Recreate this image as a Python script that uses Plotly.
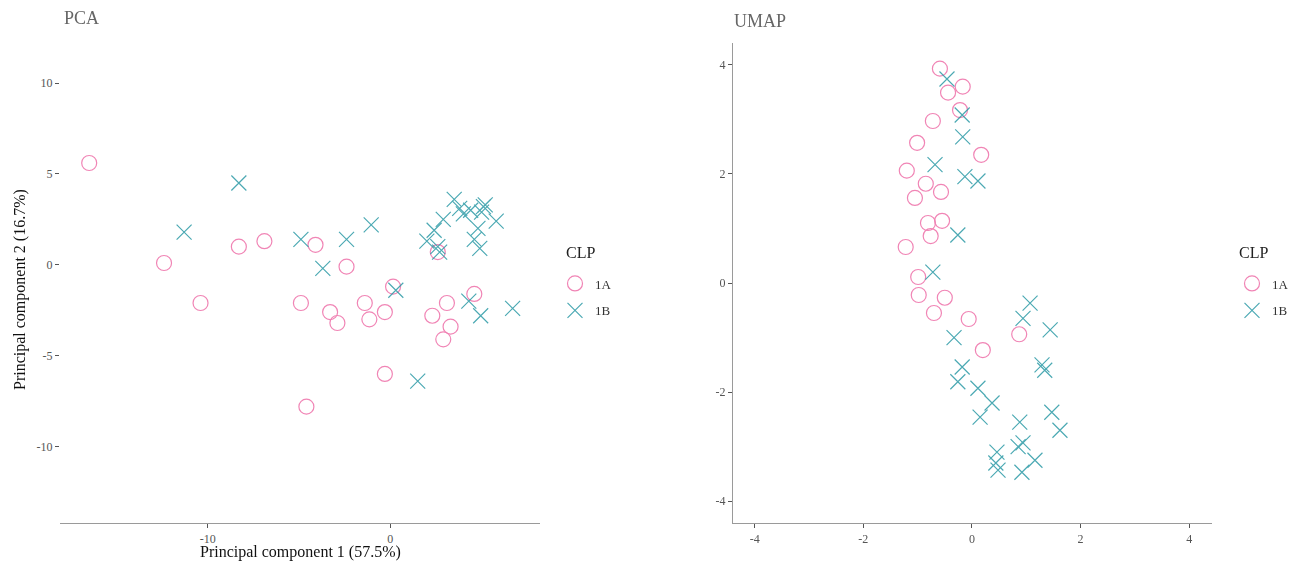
import plotly.graph_objects as go

# ---------------- data ----------------
# PCA, group 1A
pca_1a_x = [-16.5, -12.4, -10.4, -8.3, -6.9, -4.9, -4.1, -4.6, -3.3, -2.9, -2.4,
            -1.4, -1.15, -0.3, -0.3, 0.15, 2.3, 2.6, 3.1, 2.9, 3.3, 4.6]
pca_1a_y = [5.6, 0.1, -2.1, 1.0, 1.3, -2.1, 1.1, -7.8, -2.6, -3.2, -0.1,
            -2.1, -3.0, -2.6, -6.0, -1.2, -2.8, 0.7, -2.1, -4.1, -3.4, -1.6]
# PCA, group 1B
pca_1b_x = [-11.3, -8.3, -4.9, -3.7, -2.4, -1.05, 0.3, 1.5, 2.0, 2.4, 2.6, 2.7,
            2.9, 3.5, 3.8, 4.0, 4.4, 4.6, 4.8, 5.0, 5.1, 5.2, 4.9, 4.3, 4.95, 5.8, 6.7]
pca_1b_y = [1.8, 4.5, 1.4, -0.2, 1.4, 2.2, -1.4, -6.4, 1.3, 1.9, 1.0, 0.7,
            2.5, 3.6, 3.1, 2.8, 3.0, 1.4, 2.0, 2.9, 3.2, 3.3, 0.9, -2.0, -2.8, 2.4, -2.4]

# UMAP, group 1A
umap_1a_x = [-0.59, -0.17, -0.44, -0.22, -0.72, -1.01, 0.17, -1.2, -0.85, -0.57, -1.05,
             -0.55, -0.81, -0.76, -1.22, -0.99, -0.98, -0.5, -0.7, -0.06, 0.87, 0.2]
umap_1a_y = [3.93, 3.6, 3.49, 3.17, 2.97, 2.57, 2.35, 2.06, 1.82, 1.67, 1.56,
             1.14, 1.1, 0.86, 0.66, 0.11, -0.22, -0.27, -0.55, -0.66, -0.94, -1.23]
# UMAP, group 1B
umap_1b_x = [-0.46, -0.18, -0.17, -0.68, -0.13, 0.11, -0.26, -0.72,
             -0.33, -0.18, -0.26, 0.11, 0.37, 0.15, 0.88, 0.46, 0.44, 0.48, 0.85, 0.94, 0.92,
             1.07, 0.94, 1.44, 1.29, 1.34, 1.47, 1.62, 1.16]
umap_1b_y = [3.74, 3.08, 2.68, 2.17, 1.95, 1.87, 0.88, 0.2,
             -1.0, -1.54, -1.81, -1.93, -2.2, -2.46, -2.55, -3.1, -3.3, -3.43, -3.0, -2.93, -3.47,
             -0.37, -0.65, -0.86, -1.5, -1.6, -2.37, -2.7, -3.25]

group_names = ["1A", "1B"]
pca_ticks_x = [-10, 0]
pca_ticks_y = [-10, -5, 0, 5, 10]
umap_ticks = [-4, -2, 0, 2, 4]

# ---------------- style ----------------
PINK = "#EE6FA8"
TEAL = "#2C9AA6"
FONT = "Liberation Serif"
GREY_TXT = "#555555"
AXIS_GREY = "#9a9a9a"

fig = go.Figure()

def add(x, y, name, color, symbol, xa, ya, legend):
    fig.add_trace(go.Scatter(
        x=x, y=y, mode="markers", name=name, legendgroup=name,
        marker=dict(symbol=symbol, size=15, color=color,
                    line=dict(width=1.2, color=color)),
        opacity=0.85,
        xaxis=xa, yaxis=ya, legend=legend,
    ))

add(pca_1a_x, pca_1a_y, group_names[0], PINK, "circle-open", "x", "y", "legend")
add(pca_1b_x, pca_1b_y, group_names[1], TEAL, "x-thin-open", "x", "y", "legend")
add(umap_1a_x, umap_1a_y, group_names[0], PINK, "circle-open", "x2", "y2", "legend2")
add(umap_1b_x, umap_1b_y, group_names[1], TEAL, "x-thin-open", "x2", "y2", "legend2")

W, H = 1292, 562
def px(v):
    return v / W
def py(v):
    return 1 - v / H

def labels(vals):
    return [str(v) for v in vals]  # ASCII hyphen minus, as in the reference

tickfont = dict(family=FONT, size=12, color=GREY_TXT)
common = dict(showgrid=False, zeroline=False, ticks="outside", ticklen=4,
              tickcolor="#555555", tickwidth=1.2, tickfont=tickfont, automargin=False)

legend_common = dict(
    font=dict(family=FONT, size=13, color="#333333"),
    bgcolor="rgba(0,0,0,0)", xanchor="left", yanchor="middle",
    itemwidth=30, tracegroupgap=7, traceorder="grouped",
)

title_font = dict(family=FONT, size=16, color="#222222")

fig.update_layout(
    width=W, height=H,
    margin=dict(l=0, r=0, t=0, b=0, autoexpand=False),
    plot_bgcolor="white", paper_bgcolor="white",
    xaxis=dict(domain=[px(60), px(540)], range=[-18.1, 8.2],
               tickvals=pca_ticks_x, ticktext=labels(pca_ticks_x),
               showline=True, linecolor=AXIS_GREY, linewidth=1.2, anchor="y",
               **common),
    yaxis=dict(domain=[py(523), py(43)], range=[-14.2, 12.2],
               tickvals=pca_ticks_y, ticktext=labels(pca_ticks_y),
               showline=False, anchor="x", **common),
    xaxis2=dict(domain=[px(733), px(1212)], range=[-4.4, 4.42],
                tickvals=umap_ticks, ticktext=labels(umap_ticks),
                showline=True, linecolor=AXIS_GREY, linewidth=1.2, anchor="y2",
                **common),
    yaxis2=dict(domain=[py(523), py(43)], range=[-4.4, 4.4],
                tickvals=umap_ticks, ticktext=labels(umap_ticks),
                showline=True, linecolor=AXIS_GREY, linewidth=1.2, anchor="x2",
                **common),
    legend=dict(x=px(555), y=py(297), **legend_common),
    legend2=dict(x=px(1232), y=py(297), **legend_common),
    annotations=[
        dict(text="PCA", x=px(62), y=py(6), xref="paper", yref="paper",
             xanchor="left", yanchor="top", showarrow=False,
             font=dict(family=FONT, size=18, color="#666666")),
        dict(text="UMAP", x=px(732), y=py(9), xref="paper", yref="paper",
             xanchor="left", yanchor="top", showarrow=False,
             font=dict(family=FONT, size=18, color="#666666")),
        dict(text="CLP", x=px(564), y=py(253), xref="paper", yref="paper",
             xanchor="left", yanchor="middle", showarrow=False, font=title_font),
        dict(text="CLP", x=px(1237), y=py(253), xref="paper", yref="paper",
             xanchor="left", yanchor="middle", showarrow=False, font=title_font),
        dict(text="Principal component 1 (57.5%)", x=px(300), y=py(563),
             xref="paper", yref="paper", xanchor="center", yanchor="bottom",
             showarrow=False, font=dict(family=FONT, size=16, color="#111111")),
        dict(text="Principal component 2 (16.7%)", x=px(20), y=py(290),
             xref="paper", yref="paper", xanchor="center", yanchor="middle",
             textangle=-90, showarrow=False,
             font=dict(family=FONT, size=16, color="#111111")),
    ],
)

fig.write_html("out.html", config={"displayModeBar": False},
               post_script="document.body.style.margin='0';")
